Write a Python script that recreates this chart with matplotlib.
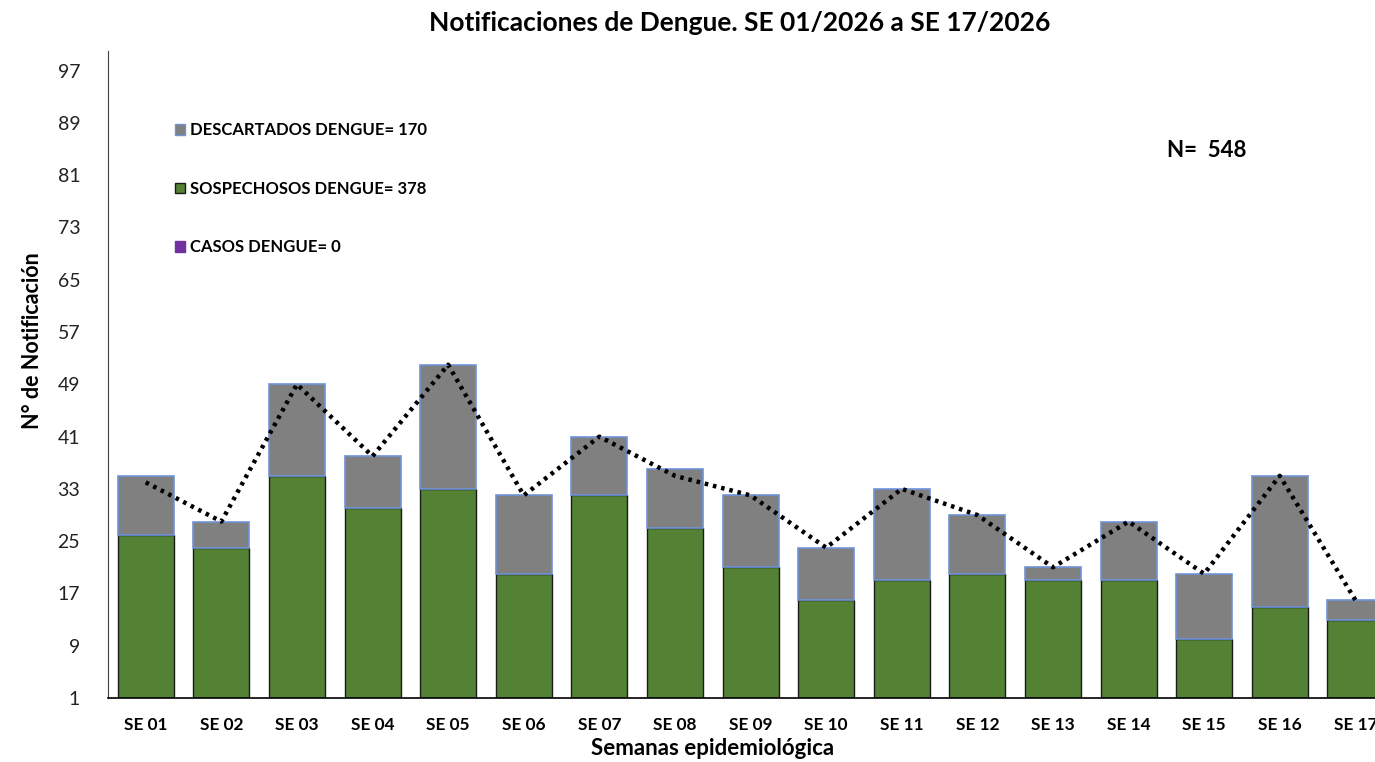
import matplotlib
matplotlib.use("Agg")
import matplotlib.pyplot as plt
from matplotlib.patches import Patch

semanas = ["SE 01", "SE 02", "SE 03", "SE 04", "SE 05", "SE 06", "SE 07", "SE 08", "SE 09",
           "SE 10", "SE 11", "SE 12", "SE 13", "SE 14", "SE 15", "SE 16", "SE 17"]
sospechosos = [26, 24, 35, 30, 33, 20, 32, 27, 21, 16, 19, 20, 19, 19, 10, 15, 13]
descartados = [9, 4, 14, 8, 19, 12, 9, 9, 11, 8, 14, 9, 2, 9, 10, 20, 3]
casos = [0] * 17
tendencia = [34, 28, 49, 38, 52, 32, 41, 35, 32, 24, 33, 29, 21, 28, 20, 35, 16]
yticks = list(range(1, 98, 8))
# totales tal como aparecen en la leyenda
tot_descartados = 170
tot_sospechosos = 378
tot_casos = 0
n_total = 548

plt.rcParams['font.family'] = ['Lato', 'DejaVu Sans']

fig = plt.figure(figsize=(13.75, 7.62), dpi=100)
ax = fig.add_axes([0.0785, 0.084, 0.9215, 0.849])

x = list(range(len(semanas)))
w = 0.74
ax.bar(x, sospechosos, width=w, color="#548235", edgecolor="#1a1a1a", lw=1.0, zorder=2)
ax.bar(x, descartados, width=w, bottom=sospechosos, color="#808080",
       edgecolor="#6f94d6", lw=1.2, zorder=2)
ax.bar(x, casos, width=w, bottom=[s + d for s, d in zip(sospechosos, descartados)],
       color="#7030a0", zorder=2)
ax.plot(x, tendencia, color="black", lw=3.2, ls=(0, (0.8, 1.1)), zorder=3)

ax.set_xlim(-0.5, 16.26)
ax.set_ylim(1, 100)
ax.set_yticks(yticks)
ax.set_xticks(x)
ax.set_xticklabels(semanas, fontsize=12.4, fontweight="bold")
ax.tick_params(axis="y", length=0, labelsize=14, pad=20, labelcolor="#222222")
ax.tick_params(axis="x", length=0, pad=14)
for s in ("top", "right"):
    ax.spines[s].set_visible(False)
ax.spines["left"].set_color("#404040")
ax.spines["left"].set_linewidth(0.8)
ax.spines["bottom"].set_color("black")
ax.spines["bottom"].set_linewidth(1.2)

ax.set_ylabel("N° de Notificación", fontsize=15.5, fontweight="bold")
ax.yaxis.set_label_coords(-0.051, 0.552)
ax.set_xlabel("Semanas epidemiológica", fontsize=16, fontweight="bold")
ax.xaxis.set_label_coords(0.477, -0.062)
fig.suptitle("Notificaciones de Dengue. SE 01/2026 a SE 17/2026", x=0.538, y=0.985,
             fontsize=19, fontweight="bold")

handles = [Patch(facecolor="#808080", edgecolor="#6f94d6", label="DESCARTADOS DENGUE= %d" % tot_descartados),
           Patch(facecolor="#548235", edgecolor="#1a1a1a", label="SOSPECHOSOS DENGUE= %d" % tot_sospechosos),
           Patch(facecolor="#7030a0", edgecolor="#7030a0", label="CASOS DENGUE= %d" % tot_casos)]
leg = ax.legend(handles=handles, loc="upper left", bbox_to_anchor=(0.041, 0.913),
                frameon=False, handlelength=0.62, handleheight=0.62, handletextpad=0.3,
                labelspacing=2.55, prop={"weight": "bold", "size": 12.0})

ax.text(0.836, 0.846, "N=  %d" % n_total, transform=ax.transAxes, fontsize=16,
        fontweight="bold", va="center")

fig.savefig("out.png", dpi=100, facecolor="white")
